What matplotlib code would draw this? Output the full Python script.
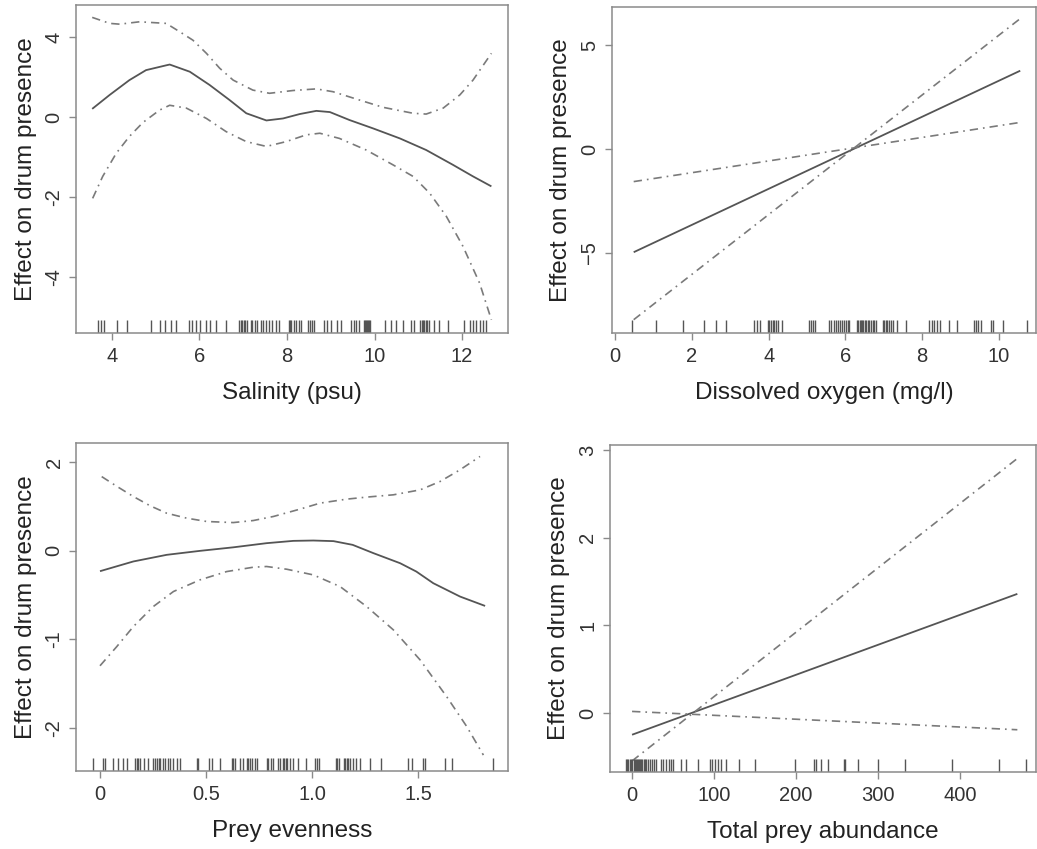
import numpy as np
import matplotlib.pyplot as plt

plt.rcParams['font.family'] = ['Liberation Sans', 'DejaVu Sans']

# ---- Salinity panel ----
sal_fit_x = [3.55, 3.95, 4.40, 4.78, 5.24, 5.32, 5.78, 6.23, 6.69, 7.07, 7.53, 7.91,
             8.29, 8.67, 8.98, 9.43, 9.97, 10.58, 11.18, 11.79, 12.25, 12.67]
sal_fit_y = [0.21, 0.56, 0.93, 1.18, 1.30, 1.32, 1.14, 0.81, 0.43, 0.10, -0.08, -0.03,
             0.08, 0.16, 0.13, -0.07, -0.28, -0.53, -0.82, -1.19, -1.48, -1.73]
sal_up_x = [3.55, 3.95, 4.18, 4.63, 5.24, 5.55, 5.85, 6.16, 6.46, 6.77, 7.22, 7.60,
            8.14, 8.67, 9.05, 9.66, 10.19, 10.88, 11.18, 11.57, 11.95, 12.25, 12.67]
sal_up_y = [2.50, 2.35, 2.33, 2.39, 2.35, 2.14, 1.93, 1.60, 1.23, 0.93, 0.68, 0.60,
            0.67, 0.71, 0.64, 0.43, 0.25, 0.10, 0.08, 0.23, 0.56, 0.93, 1.60]
sal_lo_x = [3.56, 3.79, 4.10, 4.40, 4.71, 5.09, 5.32, 5.70, 6.16, 6.61, 7.07, 7.53,
            7.98, 8.44, 8.75, 9.20, 9.81, 10.42, 10.88, 11.26, 11.64, 12.02, 12.40, 12.67]
sal_lo_y = [-2.03, -1.48, -0.90, -0.48, -0.13, 0.18, 0.30, 0.23, -0.03, -0.36, -0.61, -0.73,
            -0.61, -0.44, -0.40, -0.53, -0.82, -1.19, -1.48, -1.90, -2.48, -3.23, -4.15, -5.07]
sal_rug = [3.69, 3.75, 3.82, 4.11, 4.34, 4.89, 5.11, 5.22, 5.34, 5.47, 5.76, 5.83, 5.91,
           6.02, 6.16, 6.25, 6.37, 6.60, 6.90, 6.94, 6.98, 7.02, 7.05, 7.09, 7.17, 7.21,
           7.26, 7.32, 7.40, 7.46, 7.51, 7.59, 7.66, 7.74, 7.82, 8.05, 8.07, 8.10, 8.16,
           8.20, 8.27, 8.31, 8.49, 8.53, 8.58, 8.62, 8.85, 8.92, 9.00, 9.15, 9.24, 9.47,
           9.52, 9.57, 9.65, 9.76, 9.79, 9.81, 9.83, 9.85, 9.88, 9.90, 10.24, 10.37, 10.49,
           10.64, 10.83, 10.91, 11.05, 11.08, 11.11, 11.14, 11.17, 11.20, 11.25, 11.37,
           11.48, 11.67, 12.05, 12.17, 12.24, 12.32, 12.40, 12.47, 12.55]
sal_yticks = [2, 0, -2, -4]
sal_ylabels = ['4', '0', '-2', '-4']

# ---- Dissolved oxygen panel ----
do_x = [0.48, 10.56]
do_fit = [-4.97, 3.77]
do_steep = [-8.22, 6.28]
do_flat = [-1.57, 1.28]
do_rug = [0.43, 1.07, 1.76, 2.32, 2.62, 2.89, 3.63, 3.69, 3.78, 3.97, 4.01, 4.06, 4.10,
          4.14, 4.18, 4.25, 4.34, 5.05, 5.10, 5.16, 5.20, 5.57, 5.63, 5.70, 5.76, 5.82,
          5.87, 5.91, 5.97, 6.02, 6.06, 6.10, 6.30, 6.34, 6.37, 6.40, 6.44, 6.47, 6.51,
          6.54, 6.58, 6.62, 6.66, 6.71, 6.75, 6.79, 6.99, 7.02, 7.06, 7.09, 7.14, 7.20,
          7.25, 7.35, 7.57, 8.19, 8.25, 8.31, 8.38, 8.47, 8.71, 8.90, 9.35, 9.40, 9.46,
          9.54, 9.80, 9.85, 10.10, 10.73]

# ---- Prey evenness panel ----
ev_fit_x = [0.0, 0.157, 0.314, 0.471, 0.628, 0.785, 0.911, 1.005, 1.10, 1.19, 1.288,
            1.414, 1.49, 1.57, 1.696, 1.814]
ev_fit_y = [-0.23, -0.12, -0.045, 0.0, 0.04, 0.087, 0.113, 0.117, 0.11, 0.068, -0.026,
            -0.14, -0.234, -0.366, -0.517, -0.623]
ev_up_x = [0.008, 0.079, 0.157, 0.236, 0.314, 0.408, 0.503, 0.628, 0.722, 0.817, 0.942,
           1.037, 1.162, 1.256, 1.382, 1.508, 1.602, 1.696, 1.79]
ev_up_y = [0.84, 0.73, 0.615, 0.51, 0.426, 0.37, 0.332, 0.32, 0.343, 0.389, 0.472,
           0.54, 0.585, 0.608, 0.634, 0.69, 0.785, 0.917, 1.068]
ev_lo_x = [0.0, 0.079, 0.157, 0.251, 0.346, 0.471, 0.597, 0.722, 0.785, 0.88, 1.005,
           1.131, 1.256, 1.382, 1.508, 1.633, 1.728, 1.806]
ev_lo_y = [-1.30, -1.083, -0.857, -0.63, -0.46, -0.328, -0.234, -0.185, -0.177, -0.208,
           -0.272, -0.404, -0.63, -0.894, -1.234, -1.649, -1.989, -2.31]
ev_rug = [-0.035, 0.016, 0.024, 0.063, 0.086, 0.110, 0.126, 0.165, 0.173, 0.181, 0.188,
          0.207, 0.228, 0.251, 0.259, 0.267, 0.276, 0.283, 0.295, 0.306, 0.319, 0.330,
          0.346, 0.361, 0.377, 0.455, 0.463, 0.514, 0.526, 0.565, 0.624, 0.628, 0.636,
          0.660, 0.675, 0.691, 0.699, 0.707, 0.718, 0.730, 0.738, 0.785, 0.793, 0.804,
          0.817, 0.837, 0.848, 0.861, 0.867, 0.875, 0.883, 0.895, 0.908, 0.935, 0.971,
          1.013, 1.021, 1.033, 1.112, 1.118, 1.128, 1.147, 1.154, 1.162, 1.170, 1.178,
          1.194, 1.206, 1.225, 1.272, 1.324, 1.453, 1.468, 1.523, 1.531, 1.626, 1.657, 1.850]
ev_yticks = [1, 0, -1, -2]
ev_ylabels = ['2', '0', '-1', '-2']

# ---- Total prey abundance panel ----
ab_x = [0, 469.8]
ab_fit = [-0.247, 1.36]
ab_steep = [-0.546, 2.905]
ab_flat = [0.019, -0.19]
ab_rug = [-7.7, -6.1, -4.5, -2.8, -1.2, 0.4, 2.0, 3.2, 4.5, 5.7, 6.9, 8.1, 9.3, 11.0,
          12.6, 14.2, 15.8, 17.4, 19.9, 22.3, 24.7, 27.2, 29.6, 35.7, 37.7, 41.8, 45.0,
          47.9, 49.9, 60.0, 66.1, 80.3, 94.5, 97.8, 101.0, 104.3, 108.7, 114.8, 130.2,
          149.3, 199.2, 222.3, 224.3, 230.4, 238.5, 258.8, 260.0, 275.1, 299.4, 332.7,
          390.7, 447.5, 479.9]

ylab = 'Effect on drum presence'
fit_kw = dict(color='#555555', lw=1.3, solid_capstyle='butt')
ci_kw = dict(color='#7a7a7a', lw=1.2, linestyle=(0, (5, 3, 1, 3)))
edge = '#8a8a8a'


def style(ax, xlim, ylim, xticks, yticks, ylabels, xlabel, ylx):
    ax.set_xlim(xlim)
    ax.set_ylim(ylim)
    ax.set_xticks(xticks)
    ax.set_yticks(yticks)
    if ylabels is not None:
        ax.set_yticklabels(ylabels)
    for s in ax.spines.values():
        s.set_color(edge)
        s.set_linewidth(1.1)
    ax.tick_params(direction='out', length=5, width=1.0, color=edge,
                   labelsize=14.5, labelcolor='#333333')
    ax.tick_params(axis='x', pad=5)
    ax.tick_params(axis='y', pad=4)
    for t in ax.get_yticklabels():
        t.set_rotation(90)
        t.set_va('center')
    ax.set_xlabel(xlabel, fontsize=17.5, color='#222222')
    ax.set_ylabel(ylab, fontsize=17.5, color='#222222')
    ax.xaxis.set_label_coords(0.5, -0.15)
    ax.yaxis.set_label_coords(ylx, 0.5)


def rug(ax, vals):
    ax.vlines(vals, 0, 0.04, transform=ax.get_xaxis_transform(),
              color='#555555', lw=1.0)


fig = plt.figure(figsize=(10.37, 8.49), dpi=100)

ax1 = fig.add_axes([0.0733, 0.6078, 0.4166, 0.3863])
ax1.plot(sal_fit_x, sal_fit_y, **fit_kw)
ax1.plot(sal_up_x, sal_up_y, **ci_kw)
ax1.plot(sal_lo_x, sal_lo_y, **ci_kw)
rug(ax1, sal_rug)
style(ax1, (3.18, 13.05), (-5.4, 2.81), [4, 6, 8, 10, 12], sal_yticks, sal_ylabels,
      'Salinity (psu)', -0.09)

ax2 = fig.add_axes([0.590, 0.6078, 0.409, 0.384])
ax2.plot(do_x, do_fit, **fit_kw)
ax2.plot(do_x, do_steep, **ci_kw)
ax2.plot(do_x, do_flat, **ci_kw)
rug(ax2, do_rug)
style(ax2, (-0.09, 10.97), (-8.86, 6.84), [0, 2, 4, 6, 8, 10], [5, 0, -5], None,
      'Dissolved oxygen (mg/l)', -0.093)

ax3 = fig.add_axes([0.0733, 0.0919, 0.4166, 0.3863])
ax3.plot(ev_fit_x, ev_fit_y, **fit_kw)
ax3.plot(ev_up_x, ev_up_y, **ci_kw)
ax3.plot(ev_lo_x, ev_lo_y, **ci_kw)
rug(ax3, ev_rug)
style(ax3, (-0.113, 1.922), (-2.49, 1.22), [0, 0.5, 1.0, 1.5], ev_yticks, ev_ylabels,
      'Prey evenness', -0.09)
ax3.set_xticklabels(['0', '0.5', '1.0', '1.5'])

ax4 = fig.add_axes([0.588, 0.0907, 0.411, 0.385])
ax4.plot(ab_x, ab_fit, **fit_kw)
ax4.plot(ab_x, ab_steep, **ci_kw)
ax4.plot(ab_x, ab_flat, **ci_kw)
rug(ax4, ab_rug)
style(ax4, (-27.2, 492.5), (-0.672, 3.057), [0, 100, 200, 300, 400], [0, 1, 2, 3], None,
      'Total prey abundance', -0.093)

fig.savefig('out.png', dpi=100, facecolor='white')
